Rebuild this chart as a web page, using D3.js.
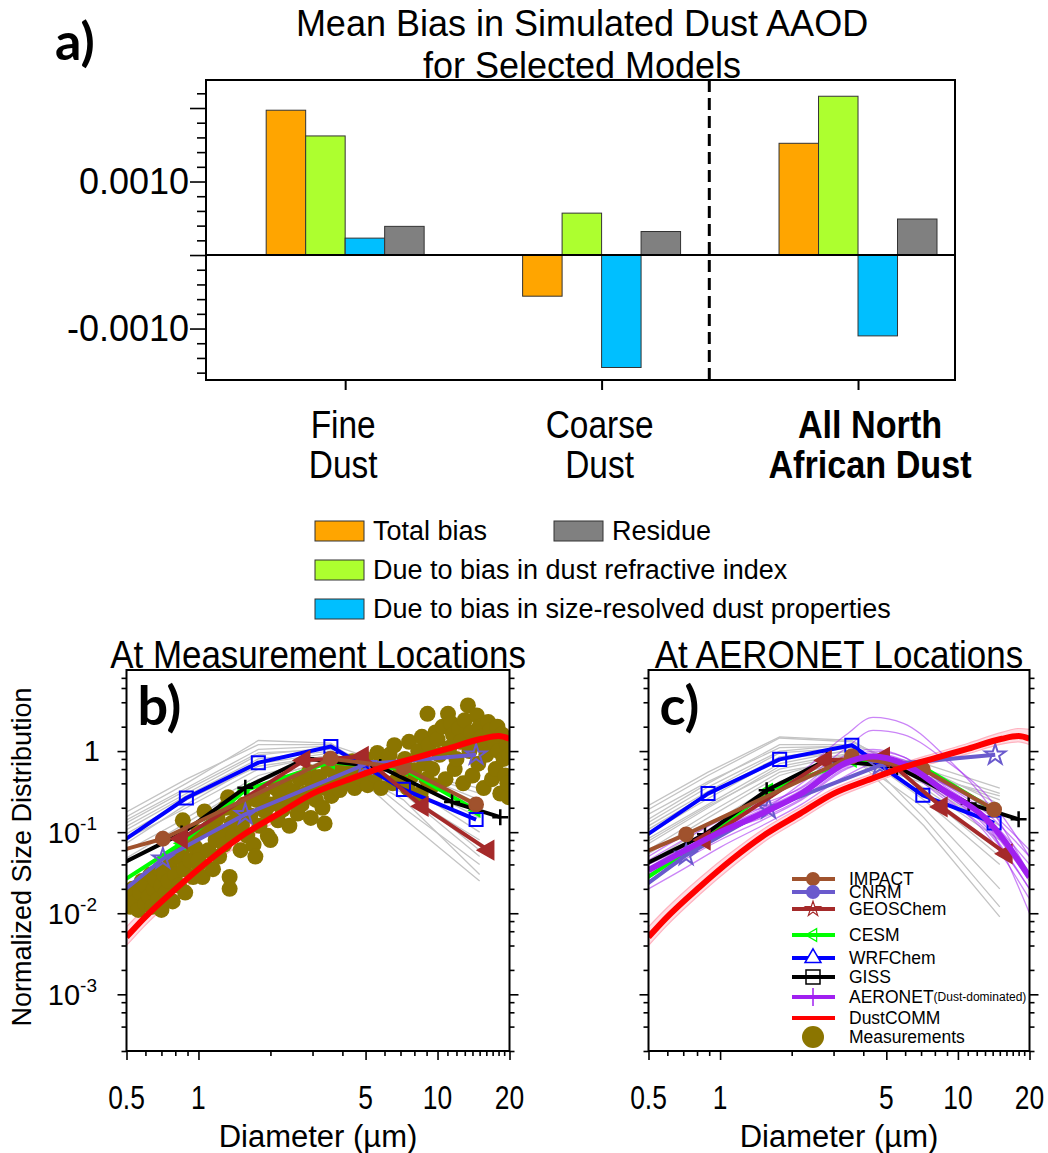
<!DOCTYPE html>
<html><head><meta charset="utf-8">
<script src="https://cdn.jsdelivr.net/npm/d3@7"></script>
<style>body{margin:0;background:#fff}svg{display:block}</style>
</head><body>
<svg id="chart" width="1048" height="1153"></svg>
<script>
// ---------------- Panel a data ----------------
const categories = [["Fine","Dust"],["Coarse","Dust"],["All North","African Dust"]];
const totalBias = [0.00197, -0.00056, 0.00152];
const refractiveBias = [0.00162, 0.00057, 0.00216];
const sizeBias = [0.00023, -0.00153, -0.00110];
const residue = [0.00039, 0.00032, 0.00049];
const barSeriesNames = ["Total bias","Due to bias in dust refractive index","Due to bias in size-resolved dust properties","Residue"];
const aMajorTicks = [-0.001, 0, 0.001, 0.002];
const aLabels = {"-0.001":"-0.0010","0.001":"0.0010"};

// ---------------- Panel b/c data ----------------
const xTicks = [0.5, 1, 5, 10, 20];
const xMinor = [0.6,0.7,0.8,0.9,2,3,4,6,7,8,9,11,12,13,14,15,16,17,18,19];
const yTicks = [1e-3, 1e-2, 1e-1, 1];
const yMinor = [2e-4,4e-4,6e-4,8e-4,2e-3,4e-3,6e-3,8e-3,2e-2,4e-2,6e-2,8e-2,0.2,0.4,0.6,0.8,2,4,6,8];

// DustCOMM (same in both panels)
const dustD    = [0.5,0.59,0.82,1.13,1.57,2.17,3.0,4.16,5.76,8.0,11.06,15.3,18.0,20];
const dustY    = [0.0051,0.0086,0.0211,0.047,0.096,0.169,0.299,0.436,0.617,0.82,1.07,1.42,1.53,1.42];
const dustLow  = [0.0040,0.0068,0.017,0.038,0.080,0.142,0.255,0.38,0.54,0.72,0.93,1.22,1.30,1.20];
const dustHigh = [0.0068,0.0112,0.027,0.058,0.116,0.200,0.345,0.50,0.70,0.94,1.25,1.70,1.90,1.85];

// Panel b models
const bImpactD = [0.45,0.71,3.57,7.2,14.5],  bImpactY = [0.057,0.083,0.806,0.624,0.22];
const bCnrmD   = [0.44,0.71,1.57,4.98,14.5], bCnrmY   = [0.015,0.047,0.166,0.686,0.90];
const bGeosD   = [0.85,2.77,4.86,8.65,16.3], bGeosY   = [0.083,0.768,0.86,0.208,0.06];
const bCesmD   = [0.44,0.85,1.57,3.57,7.2,14.5], bCesmY = [0.021,0.073,0.33,0.73,0.6,0.186];
const bWrfD    = [0.445,0.89,1.78,3.58,7.2,14.5], bWrfY = [0.066,0.264,0.72,1.14,0.337,0.143];
const bGissD   = [0.43,0.85,1.57,2.82,5.76,11.5,18.3], bGissY = [0.035,0.096,0.354,0.81,0.635,0.235,0.153];

// Panel c models
const cImpactD = [0.45,0.72,3.58,7.12,14.2],  cImpactY = [0.052,0.094,0.86,0.595,0.19];
const cCnrmD   = [0.44,0.72,1.6,4.7,14.35],   cCnrmY   = [0.018,0.052,0.195,0.667,0.90];
const cGeosD   = [0.86,2.78,4.88,8.53,16.0],  cGeosY   = [0.08,0.768,0.84,0.205,0.054];
const cCesmD   = [0.44,0.86,1.6,3.6,7.12,14.2], cCesmY = [0.022,0.08,0.33,0.77,0.635,0.186];
const cWrfD    = [0.445,0.89,1.78,3.58,7.12,14.2], cWrfY = [0.076,0.299,0.79,1.18,0.285,0.13];
const cGissD   = [0.43,0.864,1.57,2.81,5.54,11.1,18.0], cGissY = [0.034,0.094,0.328,0.78,0.635,0.225,0.144];

// Ensemble gray lines
const grayD = [0.45,0.89,1.78,3.58,7.2,15];
const bGray = [
 [0.12,0.35,1.05,1.15,0.45,0.15],[0.09,0.28,0.8,1.0,0.5,0.2],[0.07,0.2,0.6,0.9,0.6,0.3],
 [0.05,0.15,0.5,0.85,0.35,0.06],[0.035,0.11,0.42,0.8,0.25,0.03],[0.06,0.22,0.7,0.95,0.15,0.025],
 [0.1,0.3,0.9,1.1,0.4,0.1],[0.04,0.13,0.45,0.75,0.55,0.35],[0.08,0.25,0.65,0.88,0.3,0.08],
 [0.15,0.45,1.2,1.2,0.6,0.25],[0.11,0.33,0.95,1.05,0.2,0.04],[0.13,0.4,1.35,1.25,0.3,0.05]
];
const cGray = [
 [0.16,0.5,1.45,1.3,0.5,0.2],[0.12,0.4,1.2,1.2,0.6,0.3],[0.1,0.32,0.95,1.1,0.45,0.12],
 [0.08,0.26,0.8,1.0,0.7,0.35],[0.06,0.2,0.65,0.95,0.3,0.05],[0.045,0.15,0.5,0.9,0.12,0.009],
 [0.035,0.12,0.42,0.85,0.2,0.02],[0.07,0.22,0.7,1.05,0.55,0.25],[0.09,0.3,0.85,1.1,0.25,0.04],
 [0.05,0.17,0.55,0.8,0.4,0.15],[0.14,0.42,1.1,1.15,0.35,0.08],[0.03,0.1,0.35,0.7,0.5,0.28],
 [0.11,0.36,1.0,1.2,0.15,0.012],[0.065,0.21,0.6,0.92,0.62,0.22],[0.18,0.55,1.5,1.35,0.4,0.1]
];

// AERONET (panel c)
const aeroD = [0.5,0.7,1.0,1.5,2.2,3.4,4.4,5.9,8.7,13,20];
const aeroMean = [0.034,0.058,0.1,0.17,0.3,0.72,0.86,0.7,0.33,0.15,0.028];
const aeroSites = [
 [0.04,0.07,0.13,0.25,0.55,1.6,2.6,2.2,0.9,0.25,0.03],
 [0.03,0.05,0.09,0.18,0.4,1.1,1.8,1.6,0.8,0.3,0.05],
 [0.045,0.08,0.14,0.22,0.35,0.8,1.0,0.85,0.4,0.18,0.05],
 [0.025,0.045,0.08,0.14,0.25,0.6,0.75,0.62,0.3,0.12,0.02],
 [0.02,0.035,0.065,0.12,0.22,0.5,0.68,0.6,0.35,0.16,0.04],
 [0.05,0.09,0.15,0.2,0.3,0.65,0.8,0.65,0.28,0.1,0.015],
 [0.035,0.06,0.11,0.19,0.33,0.78,0.95,0.78,0.4,0.2,0.06],
 [0.028,0.05,0.09,0.16,0.28,0.68,0.82,0.66,0.3,0.13,0.025],
 [0.04,0.065,0.12,0.2,0.36,0.9,1.05,0.85,0.38,0.14,0.01],
 [0.03,0.055,0.1,0.15,0.26,0.62,0.72,0.58,0.26,0.11,0.02]
];

// Measurements (panel b)
const measD = [0.50,0.52,0.53,0.55,0.56,0.57,0.58,0.6,0.6,0.62,0.63,0.64,0.65,0.66,0.68,0.69,0.7,0.7,0.72,0.73,
 0.75,0.76,0.78,0.8,0.82,0.83,0.85,0.87,0.88,0.9,0.92,0.95,0.97,1.0,1.0,1.02,0.86,1.06,1.04,1.0,
 1.1,1.12,1.15,1.18,1.2,1.22,1.25,1.28,1.3,1.33,1.35,1.35,1.38,1.4,1.45,1.5,1.52,1.55,1.6,
 1.65,1.7,1.73,1.75,1.8,1.85,1.9,1.95,2.0,2.0,2.1,2.15,2.2,2.25,2.3,2.4,2.45,
 2.5,2.6,2.65,2.7,2.8,2.9,2.95,3.0,3.1,3.2,3.3,3.37,3.4,3.5,3.6,3.7,3.8,3.9,
 4.0,4.1,4.2,4.4,4.5,4.6,4.8,5.0,5.1,5.3,5.5,5.6,5.8,
 6.0,6.3,6.6,6.8,7.0,7.3,7.6,7.8,8.0,8.3,8.6,8.8,9.08,9.2,9.5,9.8,6.5,7.5,8.5,9.0,9.6,
 10.0,10.2,10.5,10.8,11.06,11.2,11.4,11.6,11.8,12.0,12.3,12.5,12.8,13.0,13.4,13.6,13.8,14.0,14.3,14.6,
 14.8,15.0,15.3,15.6,15.8,16.0,16.3,16.6,16.9,17.2,17.5,17.8,18.0,18.3,18.6,18.9,19.2,19.5,19.8,20,19.6];
const measY = [0.016,0.012,0.020,0.014,0.011,0.018,0.025,0.013,0.022,0.016,0.030,0.012,0.020,0.026,0.015,0.035,0.022,0.011,0.030,0.018,
 0.025,0.04,0.014,0.03,0.05,0.022,0.06,0.035,0.018,0.08,0.045,0.028,0.065,0.04,0.1,0.055,0.14,0.18,0.028,0.045,
 0.06,0.11,0.035,0.08,0.15,0.05,0.1,0.07,0.2,0.27,0.028,0.02,0.13,0.09,0.17,0.06,0.12,0.22,0.09,
 0.16,0.07,0.05,0.25,0.12,0.3,0.18,0.09,0.08,0.22,0.35,0.14,0.28,0.19,0.4,0.12,0.25,
 0.32,0.17,0.45,0.22,0.3,0.55,0.15,0.38,0.25,0.48,0.2,0.128,0.35,0.6,0.28,0.42,0.52,0.33,
 0.65,0.4,0.5,0.75,0.35,0.58,0.45,0.8,0.38,0.62,0.5,0.95,0.35,
 0.7,0.9,1.18,0.45,0.55,0.8,1.3,0.5,0.58,1.0,1.5,0.7,2.88,1.2,0.6,1.7,0.4,0.35,0.3,0.45,0.38,
 1.4,0.9,2.0,0.45,2.88,1.1,2.2,1.6,0.6,0.8,1.9,1.3,0.4,2.4,3.66,1.0,1.7,0.5,1.25,2.75,
 0.7,2.0,1.5,0.35,1.1,0.9,2.28,1.8,0.45,1.3,0.6,2.0,1.0,0.3,1.6,0.8,0.5,1.2,0.27,0.9,0.4];

const legendItems = ["IMPACT","CNRM","GEOSChem","CESM","WRFChem","GISS","AERONET","DustCOMM","Measurements"];

// ---------------- Drawing ----------------
const svg = d3.select("#chart");
const SANS = "'Liberation Sans', Arimo, Arial, Helvetica, sans-serif";
const BOLDLBL = "Lato, 'Open Sans', sans-serif";

function txt(g, x, y, s, o = {}) {
  const t = g.append("text")
    .attr("transform", `translate(${x},${y}) scale(${o.sx || 1},1)`)
    .attr("text-anchor", o.anchor || "middle")
    .attr("dominant-baseline", o.baseline || "central")
    .attr("font-family", o.family || SANS)
    .style("font-size", (o.size || 20) + "px")
    .style("font-weight", o.weight || "normal")
    .attr("fill", o.fill || "#000")
    .text(s);
  return t;
}

// ===== Panel a =====
const xa = d3.scaleLinear().domain([-0.5427, 2.3782]).range([206, 955]);
const ya = d3.scaleLinear().domain([-0.0017, 0.002381]).range([380, 80]);
const barColors = ["#FFA500", "#ADFF2F", "#00BFFF", "#808080"];
const barData = [totalBias, refractiveBias, sizeBias, residue];
const barW = xa(0.154) - xa(0);
const ga = svg.append("g");

barData.forEach((vals, k) => {
  ga.selectAll(null).data(vals).enter().append("rect")
    .attr("x", (d, i) => xa(i) + (k - 2) * barW)
    .attr("width", barW)
    .attr("y", d => Math.min(ya(d), ya(0)))
    .attr("height", d => Math.abs(ya(d) - ya(0)))
    .attr("fill", barColors[k])
    .attr("stroke", "#333").attr("stroke-width", 1);
});
ga.append("line").attr("x1", xa.range()[0]).attr("x2", xa.range()[1])
  .attr("y1", ya(0)).attr("y2", ya(0)).attr("stroke", "#000").attr("stroke-width", 2);
ga.append("line").attr("x1", xa(1.42)).attr("x2", xa(1.42))
  .attr("y1", 80).attr("y2", 380).attr("stroke", "#000").attr("stroke-width", 3)
  .attr("stroke-dasharray", "12,6");
ga.append("rect").attr("x", 206).attr("y", 80).attr("width", 955 - 206).attr("height", 300)
  .attr("fill", "none").attr("stroke", "#000").attr("stroke-width", 2);
const aMinor = d3.range(-16, 23, 2).map(v => v / 10000).filter(v => !aMajorTicks.some(m => Math.abs(m - v) < 1e-9));
const axA = ga.append("g").attr("transform", "translate(206,0)")
  .call(d3.axisLeft(ya).tickValues(aMajorTicks).tickSize(16).tickFormat(""));
const axAm = ga.append("g").attr("transform", "translate(206,0)")
  .call(d3.axisLeft(ya).tickValues(aMinor).tickSize(9).tickFormat(""));
[axA, axAm].forEach(a => { a.select(".domain").remove(); a.selectAll("line").attr("stroke-width", 1.6); });
aMajorTicks.forEach(v => {
  const lbl = aLabels[String(v)];
  if (lbl) txt(ga, 189, ya(v), lbl, { size: 36, anchor: "end" });
});
const axAx = ga.append("g").attr("transform", "translate(0,380)")
  .call(d3.axisBottom(xa).tickValues([0, 1, 2]).tickSize(10).tickFormat(""));
axAx.select(".domain").remove(); axAx.selectAll("line").attr("stroke-width", 2);
categories.forEach((c, i) => {
  const bold = i === 2;
  const cx = bold ? xa(i) + 12 : xa(i) - 2;
  const o = { size: 38, sx: bold ? 0.9 : 0.88, weight: bold ? "bold" : "normal" };
  txt(ga, cx, 425, c[0], o);
  txt(ga, cx, 465, c[1], o);
});
txt(ga, 582, 23, "Mean Bias in Simulated Dust AAOD", { size: 36 });
txt(ga, 582, 65, "for Selected Models", { size: 36 });
txt(ga, 55, 40, "a)", { size: 52, anchor: "start", weight: "bold", family: BOLDLBL });

// legend a
const legA = [
  { i: 0, x: 315, y: 521 }, { i: 3, x: 554, y: 521 },
  { i: 1, x: 315, y: 560 }, { i: 2, x: 315, y: 599 }
];
legA.forEach(l => {
  ga.append("rect").attr("x", l.x).attr("y", l.y).attr("width", 49).attr("height", 20)
    .attr("fill", barColors[l.i]).attr("stroke", "#333").attr("stroke-width", 1);
  txt(ga, l.x + 58, l.y + 10, barSeriesNames[l.i], { size: 27, anchor: "start" });
});

// ===== Panels b & c =====
function panel(x0, x1, opts) {
  const x = d3.scaleLog().domain([0.5, 20]).range([x0, x1]);
  const y = d3.scaleLog().domain([2e-4, 10]).range([1051, 670]);
  const g = svg.append("g");
  const id = "clip" + Math.round(x0);
  svg.append("defs").append("clipPath").attr("id", id)
    .append("rect").attr("x", x0).attr("y", 670).attr("width", x1 - x0).attr("height", 381);
  const pg = g.append("g").attr("clip-path", `url(#${id})`);
  const line = (D) => d3.line().x((d, i) => x(D[i])).y(d => y(d));
  const smooth = (D) => d3.line().x((d, i) => x(D[i])).y(d => y(d)).curve(d3.curveMonotoneX);

  opts.gray.forEach(r => pg.append("path").attr("d", line(grayD)(r)).attr("fill", "none")
    .attr("stroke", "#c4c4c4").attr("stroke-width", 1.3));
  const area = d3.area().x((d, i) => x(dustD[i])).y0((d, i) => y(dustLow[i])).y1(d => y(d)).curve(d3.curveMonotoneX);
  pg.append("path").attr("d", area(dustHigh)).attr("fill", "#ffd6dd").attr("opacity", 0.8);
  [dustLow, dustHigh].forEach(r => pg.append("path").attr("d", smooth(dustD)(r)).attr("fill", "none")
    .attr("stroke", "#ffb3c0").attr("stroke-width", 1.2));
  if (opts.aero) {
    aeroSites.forEach(r => pg.append("path").attr("d", smooth(aeroD)(r)).attr("fill", "none")
      .attr("stroke", "#a020f0").attr("stroke-opacity", 0.55).attr("stroke-width", 1.3));
  }
  if (opts.meas) {
    pg.selectAll(null).data(measY).enter().append("circle")
      .attr("cx", (d, i) => x(measD[i])).attr("cy", d => y(d)).attr("r", 8).attr("fill", "#8B7500");
  }
  const sym = {
    circle: d3.symbol().type(d3.symbolCircle).size(150),
    star: d3.symbol().type(d3.symbolStar).size(130),
    tri: d3.symbol().type(d3.symbolTriangle).size(140),
    trism: d3.symbol().type(d3.symbolTriangle).size(60),
    square: d3.symbol().type(d3.symbolSquare).size(170)
  };
  opts.models.forEach(m => {
    pg.append("path").attr("d", line(m.D)(m.Y)).attr("fill", "none")
      .attr("stroke", m.color).attr("stroke-width", 4).attr("stroke-linejoin", "round");
    const mk = pg.selectAll(null).data(m.Y).enter().append("path")
      .attr("transform", (d, i) => `translate(${x(m.D[i])},${y(d)})` + (m.rot ? ` rotate(${m.rot})` : ""));
    if (m.marker === "plus") {
      mk.attr("d", "M-8,0H8M0,-8V8").attr("stroke", m.color).attr("stroke-width", 2.5).attr("fill", "none");
    } else {
      mk.attr("d", sym[m.marker]()).attr("fill", m.fill).attr("stroke", m.color).attr("stroke-width", 2);
    }
  });
  if (opts.aero) {
    pg.append("path").attr("d", smooth(aeroD)(aeroMean)).attr("fill", "none")
      .attr("stroke", "#a020f0").attr("stroke-width", 6);
  }
  pg.append("path").attr("d", smooth(dustD)(dustY)).attr("fill", "none")
    .attr("stroke", "#ff0000").attr("stroke-width", 6);

  g.append("rect").attr("x", x0).attr("y", 670).attr("width", x1 - x0).attr("height", 381)
    .attr("fill", "none").attr("stroke", "#000").attr("stroke-width", 2);
  const axes = [
    g.append("g").attr("transform", `translate(0,1051)`).call(d3.axisBottom(x).tickValues(xTicks).tickSize(9).tickFormat("")),
    g.append("g").attr("transform", `translate(0,1051)`).call(d3.axisBottom(x).tickValues(xMinor).tickSize(5).tickFormat("")),
    g.append("g").attr("transform", `translate(${x0},0)`).call(d3.axisLeft(y).tickValues(yTicks).tickSize(9).tickFormat("")),
    g.append("g").attr("transform", `translate(${x0},0)`).call(d3.axisLeft(y).tickValues(yMinor).tickSize(5).tickFormat("")),
    g.append("g").attr("transform", `translate(${x1},0)`).call(d3.axisRight(y).tickValues(yTicks).tickSize(9).tickFormat("")),
    g.append("g").attr("transform", `translate(${x1},0)`).call(d3.axisRight(y).tickValues(yMinor).tickSize(5).tickFormat(""))
  ];
  axes.forEach(a => { a.select(".domain").remove(); a.selectAll("line").attr("stroke-width", 1.6); });
  xTicks.forEach(v => txt(g, x(v), 1097, String(v), { size: 33, sx: 0.8 }));
  txt(g, (x0 + x1) / 2, 1136, "Diameter (\u00B5m)", { size: 31 });
  txt(g, (x0 + x1) / 2, 655, opts.title, { size: 38, sx: 0.92 });
  txt(g, x0 + 11, 704, opts.label, { size: 54, anchor: "start", weight: "bold", family: BOLDLBL });
  if (opts.yLabels) {
    yTicks.forEach(v => {
      const e = Math.round(Math.log10(v));
      if (e === 0) { txt(g, 100, y(v), "1", { size: 29, anchor: "end" }); return; }
      const t = g.append("text").attr("x", 97).attr("y", y(v) + 11).attr("text-anchor", "end")
        .attr("font-family", SANS).style("font-size", "29px");
      t.append("tspan").text("10");
      t.append("tspan").attr("dy", -13).style("font-size", "19px").text(String(e));
    });
    g.append("text").attr("transform", `translate(22,857) rotate(-90)`)
      .attr("text-anchor", "middle").attr("dominant-baseline", "central")
      .attr("font-family", SANS).style("font-size", "27px").text("Normalized Size Distribution");
  }
  return { g, x, y };
}

const COL = { impact: "#A0522D", cnrm: "#6A5ACD", geos: "#A52A2A", cesm: "#00FF00", wrf: "#0000FF", giss: "#000000" };

panel(126.5, 509.5, {
  title: "At Measurement Locations", label: "b)", yLabels: true, meas: true, aero: false, gray: bGray,
  models: [
    { D: bCesmD, Y: bCesmY, color: COL.cesm, marker: "trism", fill: COL.cesm, rot: -90 },
    { D: bGissD, Y: bGissY, color: COL.giss, marker: "plus" },
    { D: bWrfD, Y: bWrfY, color: COL.wrf, marker: "square", fill: "none" },
    { D: bCnrmD, Y: bCnrmY, color: COL.cnrm, marker: "star", fill: "none" },
    { D: bGeosD, Y: bGeosY, color: COL.geos, marker: "tri", fill: COL.geos, rot: -90 },
    { D: bImpactD, Y: bImpactY, color: COL.impact, marker: "circle", fill: COL.impact }
  ]
});
panel(648.5, 1029.5, {
  title: "At AERONET Locations", label: "c)", yLabels: false, meas: false, aero: true, gray: cGray,
  models: [
    { D: cCesmD, Y: cCesmY, color: COL.cesm, marker: "trism", fill: COL.cesm, rot: -90 },
    { D: cGissD, Y: cGissY, color: COL.giss, marker: "plus" },
    { D: cWrfD, Y: cWrfY, color: COL.wrf, marker: "square", fill: "none" },
    { D: cCnrmD, Y: cCnrmY, color: COL.cnrm, marker: "star", fill: "none" },
    { D: cGeosD, Y: cGeosY, color: COL.geos, marker: "tri", fill: COL.geos, rot: -90 },
    { D: cImpactD, Y: cImpactY, color: COL.impact, marker: "circle", fill: COL.impact }
  ]
});

// legend c
const lg = svg.append("g");
const legY = [879, 892, 909, 935, 958, 977, 997, 1018, 1037];
const legCol = [COL.impact, COL.cnrm, COL.geos, COL.cesm, COL.wrf, COL.giss, "#A020F0", "#FF0000", "#8B7500"];
legendItems.forEach((name, i) => {
  const yy = legY[i], cx = 813;
  if (i < 8) lg.append("line").attr("x1", 792).attr("x2", 835).attr("y1", yy).attr("y2", yy)
    .attr("stroke", legCol[i]).attr("stroke-width", 4);
  if (i === 0 || i === 1) lg.append("circle").attr("cx", cx).attr("cy", yy).attr("r", 7).attr("fill", legCol[i]);
  if (i === 2) lg.append("path").attr("d", d3.symbol().type(d3.symbolStar).size(70)()).attr("transform", `translate(${cx},${yy})`)
    .attr("fill", "none").attr("stroke", legCol[i]).attr("stroke-width", 1.2);
  if (i === 3) lg.append("path").attr("d", d3.symbol().type(d3.symbolTriangle).size(70)()).attr("transform", `translate(${cx},${yy}) rotate(-90)`)
    .attr("fill", "none").attr("stroke", legCol[i]).attr("stroke-width", 1.2);
  if (i === 4) lg.append("path").attr("d", d3.symbol().type(d3.symbolTriangle).size(110)()).attr("transform", `translate(${cx},${yy})`)
    .attr("fill", "#fff").attr("stroke", legCol[i]).attr("stroke-width", 1.5);
  if (i === 5) lg.append("rect").attr("x", cx - 7).attr("y", yy - 7).attr("width", 14).attr("height", 14)
    .attr("fill", "none").attr("stroke", "#000").attr("stroke-width", 1.5);
  if (i === 6) lg.append("line").attr("x1", cx).attr("x2", cx).attr("y1", yy - 9).attr("y2", yy + 9)
    .attr("stroke", legCol[i]).attr("stroke-width", 1.5);
  if (i === 8) lg.append("circle").attr("cx", cx).attr("cy", yy).attr("r", 11).attr("fill", legCol[i]);
  const t = txt(lg, 849, yy, name, { size: 17.5, anchor: "start" });
  if (i === 6) t.append("tspan").style("font-size", "12px").text("(Dust-dominated)");
});
</script>
</body></html>
